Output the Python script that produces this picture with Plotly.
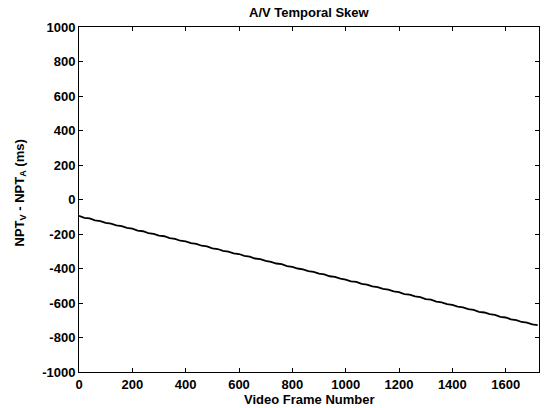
import plotly.graph_objects as go

frames = list(range(0, 1721, 20))
skew_ms = [-95, -106, -110, -121, -125, -136, -140, -150, -154, -165,
           -169, -180, -184, -195, -199, -209, -213, -224, -228, -239,
           -243, -253, -257, -268, -272, -283, -287, -298, -302, -312,
           -316, -327, -331, -342, -346, -356, -361, -371, -375, -386,
           -390, -400, -405, -415, -419, -430, -434, -445, -449, -459,
           -464, -474, -478, -489, -493, -504, -508, -518, -522, -533,
           -537, -548, -552, -562, -566, -577, -581, -592, -596, -607,
           -611, -621, -625, -636, -640, -651, -655, -665, -669, -680,
           -684, -695, -699, -710, -714, -724, -728]

x_ticks = [0, 200, 400, 600, 800, 1000, 1200, 1400, 1600]
y_ticks = [-1000, -800, -600, -400, -200, 0, 200, 400, 600, 800, 1000]
x_labels = [str(v) for v in x_ticks]
y_labels = [str(v) for v in y_ticks]

fnt = dict(family="Liberation Sans, Arial, sans-serif", size=13, color="black", weight="bold")

fig = go.Figure()
fig.add_trace(go.Scatter(x=frames, y=skew_ms, mode="lines",
                         line=dict(color="black", width=1.8), showlegend=False))

ylab = "NPT<sub>V</sub> - NPT<sub>A</sub> (ms)"

fig.update_layout(
    width=544, height=408,
    margin=dict(l=79, r=5, t=27, b=36, autoexpand=False),
    paper_bgcolor="white", plot_bgcolor="white",
    font=fnt,
    annotations=[
        dict(text="A/V Temporal Skew", x=0.5, xref="paper", y=1, yref="paper",
             yshift=15, xanchor="center", yanchor="middle", showarrow=False, font=fnt),
        dict(text="Video Frame Number", x=0.5, xref="paper", y=0, yref="paper",
             yshift=-27, xanchor="center", yanchor="middle", showarrow=False, font=fnt),
        dict(text=ylab, x=0, xref="paper",
             y=0.5, yref="paper", xshift=-59, yshift=6, xanchor="center", yanchor="middle",
             textangle=-90, showarrow=False, font=fnt),
    ],
)
fig.update_xaxes(range=[0, 1725], tickvals=x_ticks, ticktext=x_labels,
                 ticks="inside", ticklen=4, automargin=False,
                 tickcolor="black", showline=True, linecolor="black", linewidth=1,
                 mirror="ticks", showgrid=False, zeroline=False, tickfont=fnt)
fig.update_yaxes(range=[-1000, 1000], tickvals=y_ticks, ticktext=y_labels,
                 ticks="inside", ticklen=4, automargin=False,
                 tickcolor="black", showline=True, linecolor="black", linewidth=1,
                 mirror="ticks", showgrid=False, zeroline=False, tickfont=fnt)

fig.write_html("out.html", config={"displayModeBar": False},
               post_script="document.body.style.margin='0';")
